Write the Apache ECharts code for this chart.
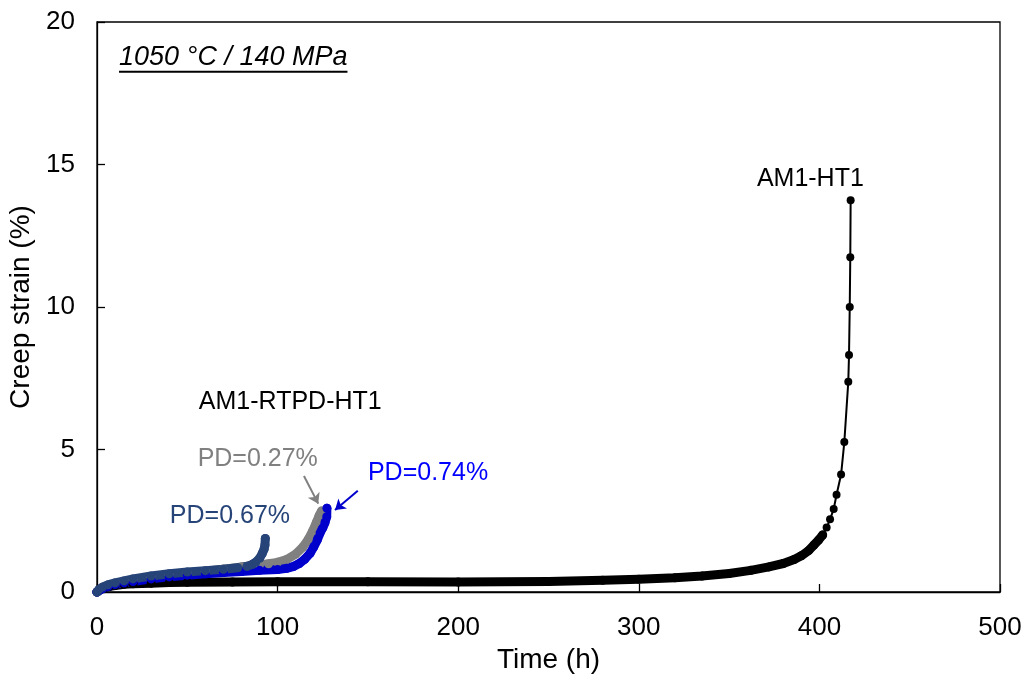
<!DOCTYPE html>
<html><head><meta charset="utf-8">
<script src="https://cdn.jsdelivr.net/npm/echarts/dist/echarts.min.js"></script>
<style>html,body{margin:0;padding:0;background:#fff}#c{width:1028px;height:675px}</style>
</head><body><div id="c"></div>
<script>
// ---- data ----
const xAxisName = 'Time (h)';
const yAxisName = 'Creep strain (%)';
const titleText = '1050 °C / 140 MPa';

// AM1-HT1: dense (closely spaced) part and sparse tail
const am1Dense = [[0,0],[1,0.06],[2,0.1],[4,0.15],[7,0.2],[10,0.23],[15,0.27],[20,0.29],[30,0.31],[40,0.33],[50,0.34],[75,0.35],[100,0.36],[150,0.36],[200,0.35],[250,0.37],[280,0.41],[300,0.45],[320,0.5],[335,0.56],[350,0.65],[362,0.76],[372,0.88],[380,1.0],[386,1.14],[390,1.27],[394,1.45],[397,1.65],[399.5,1.82],[401.8,2.0]];
const am1Tail = [[401.8,2.0],[404,2.26],[405.9,2.55],[407.9,2.91],[409.5,3.41],[412,4.12],[413.8,5.26],[416,7.38],[416.4,8.32],[416.8,10.0],[417.1,11.75],[417.3,13.75]];
// AM1-RTPD-HT1
const pd027 = [[0,0],[1,0.06],[3,0.14],[6,0.22],[10,0.29],[15,0.36],[20,0.42],[30,0.52],[40,0.6],[50,0.67],[60,0.73],[70,0.8],[80,0.88],[90,0.95],[95,0.99],[100,1.04],[105,1.14],[110,1.33],[114,1.58],[117,1.85],[119.5,2.15],[121.5,2.45],[123,2.68],[124.3,2.84]];
const pd074 = [[0,0],[1,0.05],[3,0.12],[6,0.19],[10,0.26],[15,0.32],[20,0.37],[30,0.46],[40,0.53],[50,0.59],[60,0.64],[70,0.68],[80,0.72],[90,0.76],[100,0.79],[105,0.83],[109,0.9],[112,1.0],[115,1.15],[118,1.36],[120,1.58],[122,1.83],[123.5,2.07],[125,2.25],[126.2,2.43],[127.2,2.64],[127.3,2.94]];
const pd067 = [[0,0],[1,0.08],[3,0.17],[6,0.25],[10,0.32],[15,0.39],[20,0.46],[30,0.56],[40,0.64],[50,0.7],[60,0.75],[70,0.8],[78,0.85],[83,0.9],[86,0.97],[88,1.05],[90,1.18],[91.5,1.35],[92.5,1.5],[93,1.65],[93.2,1.88]];

// annotations (data coordinates)
const labels = [
  {text:'AM1-HT1', at:[395,14.5], color:'#000000'},
  {text:'AM1-RTPD-HT1', at:[107,6.67], color:'#000000'},
  {text:'PD=0.27%', at:[89,4.67], color:'#808080'},
  {text:'PD=0.74%', at:[183.3,4.18], color:'#0000FF'},
  {text:'PD=0.67%', at:[73.6,2.67], color:'#264478'}
];
const arrows = [
  {from:[114.6,4.07], to:[122.5,3.1], color:'#808080'},
  {from:[144.4,3.55], to:[131.8,2.88], color:'#0000CC'}
];
const titlePos = [12.2, 18.75];

// ---- chart ----
const FONT = 'Liberation Sans, Arial, sans-serif';
const chart = echarts.init(document.getElementById('c'), null, {renderer:'canvas'});

function denseSeries(name, data, color){
  return {name, type:'line', data, symbol:'circle', symbolSize:9, showSymbol:true,
    itemStyle:{color}, lineStyle:{color, width:9, cap:'round', join:'round'}, animation:false, z:3};
}

const option = {
  animation:false,
  backgroundColor:'#fff',
  grid:{left:97, right:28, top:22, bottom:83, containLabel:false, outerBoundsMode:'none',
    show:true, borderColor:'#000', borderWidth:1.3, backgroundColor:'transparent'},
  xAxis:{type:'value', min:0, max:500, interval:100,
    name:xAxisName, nameLocation:'middle', nameGap:53,
    nameTextStyle:{fontFamily:FONT, fontSize:28, color:'#000'},
    axisLine:{show:true, lineStyle:{color:'#000', width:1.3}},
    axisTick:{show:true, inside:true, length:8, lineStyle:{color:'#000', width:1.3}},
    axisLabel:{fontFamily:FONT, fontSize:26, color:'#000', margin:23},
    splitLine:{show:false}},
  yAxis:{type:'value', min:0, max:20, interval:5,
    name:yAxisName, nameLocation:'middle', nameGap:58,
    nameTextStyle:{fontFamily:FONT, fontSize:28, color:'#000'},
    axisLine:{show:true, lineStyle:{color:'#000', width:1.3}},
    axisTick:{show:true, inside:true, length:8, lineStyle:{color:'#000', width:1.3}},
    axisLabel:{fontFamily:FONT, fontSize:26, color:'#000', margin:22},
    splitLine:{show:false}},
  series:[
    denseSeries('AM1-HT1', am1Dense, '#000000'),
    {name:'AM1-HT1 tail', type:'line', data:am1Tail, symbol:'circle', symbolSize:8, showSymbol:true,
      itemStyle:{color:'#000'}, lineStyle:{color:'#000', width:2}, z:3},
    denseSeries('PD=0.27%', pd027, '#808080'),
    denseSeries('PD=0.74%', pd074, '#0000CC'),
    denseSeries('PD=0.67%', pd067, '#264478'),
    {type:'lines', coordinateSystem:'cartesian2d', z:5,
      symbol:['none','arrow'], symbolSize:10,
      data: arrows.map(a=>({coords:[a.from, a.to], lineStyle:{color:a.color, width:2, opacity:1}})),
      lineStyle:{width:2, opacity:1}}
  ]
};
chart.setOption(option);

// text annotations positioned via the axis scales
const ctx = document.createElement('canvas').getContext('2d');
const titleFont = 'italic 27px ' + FONT;
ctx.font = titleFont;
const tw = ctx.measureText(titleText).width;
const tp = chart.convertToPixel({gridIndex:0}, titlePos);
const graphics = labels.map(l=>{
  const p = chart.convertToPixel({gridIndex:0}, l.at);
  return {type:'text', x:p[0], y:p[1], z:10,
    style:{text:l.text, fill:l.color, font:'25px ' + FONT, align:'center', verticalAlign:'middle'}};
});
graphics.push({type:'text', x:tp[0], y:tp[1], z:10,
  style:{text:titleText, fill:'#000', font:titleFont, align:'left', verticalAlign:'middle'}});
graphics.push({type:'line', z:10, shape:{x1:tp[0], y1:tp[1]+14, x2:tp[0]+tw, y2:tp[1]+14},
  style:{stroke:'#000', lineWidth:2}});
chart.setOption({graphic:graphics});
</script></body></html>
